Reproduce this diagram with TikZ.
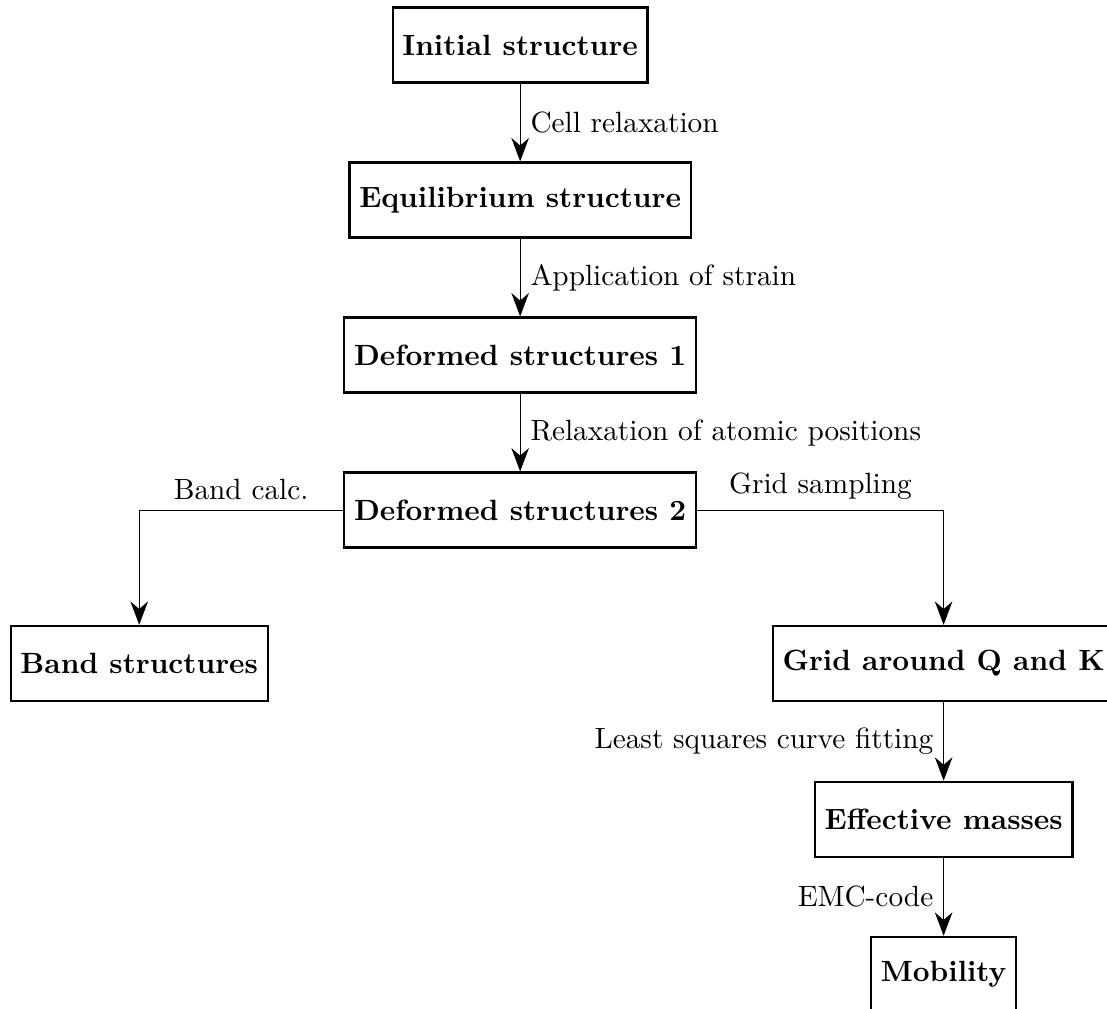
\documentclass[tikz,border=0pt]{standalone}
\usepackage{tikz}
\usetikzlibrary{arrows.meta, positioning}

\begin{document}
\begin{tikzpicture}[
    >={Stealth[length=8pt, width=6pt]},
    box/.style={draw, thick, minimum height=0.9cm, font=\bfseries},
    flow/.style={->, thin}]
  \useasboundingbox (-6.24,0.54) rectangle (7.04,-11.56);
  \node[box] (init) at (0,0) {Initial structure};
  \node[box] (equi) at (0,-1.86) {Equilibrium structure};
  \node[box] (def1) at (0,-3.72) {Deformed structures 1};
  \node[box] (def2) at (0,-5.58) {Deformed structures 2};
  \node[box] (band) at (-4.57,-7.42) {Band structures};
  \node[box] (grid) at (5.08,-7.42) {Grid around Q and K};
  \node[box] (mass) at (5.08,-9.29) {Effective masses};
  \node[box] (mob) at (5.08,-11.15) {Mobility};
  \draw[flow] (init) -- node[right] {Cell relaxation} (equi);
  \draw[flow] (equi) -- node[right] {Application of strain} (def1);
  \draw[flow] (def1) -- node[right] {Relaxation of atomic positions} (def2);
  \draw[flow] (def2.west) -| node[above, pos=0.25] {Band calc.} (band.north);
  \draw[flow] (def2.east) -| node[above, pos=0.25] {Grid sampling} (grid.north);
  \draw[flow] (grid) -- node[left] {Least squares curve fitting} (mass);
  \draw[flow] (mass) -- node[left] {EMC-code} (mob);
\end{tikzpicture}
\end{document}
